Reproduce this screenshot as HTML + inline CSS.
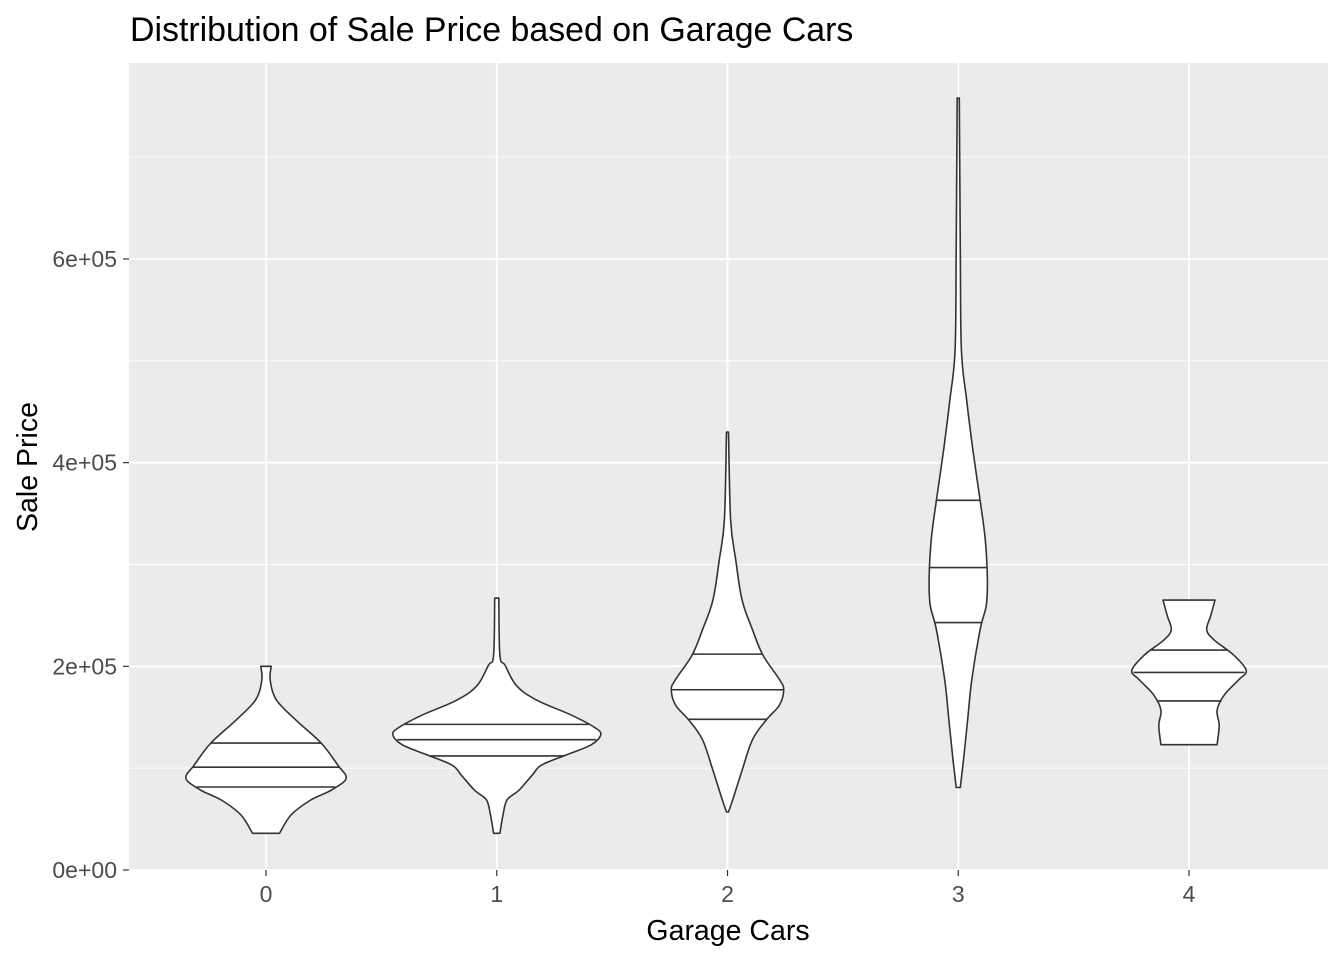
<!DOCTYPE html>
<html><head><meta charset="utf-8"><title>Distribution of Sale Price based on Garage Cars</title>
<style>html,body{margin:0;padding:0;background:#fff}svg{display:block;font-family:"Liberation Sans",Arial,sans-serif}</style>
</head><body>
<svg id="chart" width="1344" height="960" viewBox="0 0 1344 960" xmlns="http://www.w3.org/2000/svg">
<rect x="0" y="0" width="1344" height="960" fill="#fff"/>
<rect x="129" y="63" width="1199" height="807" fill="#ebebeb"/>
<g id="grid"></g>
<g id="violins"></g>
<g id="axes"></g>
<text x="130" y="41" font-size="33.9" fill="#000">Distribution of Sale Price based on Garage Cars</text>
<text x="728" y="940" font-size="28.5" text-anchor="middle" fill="#000">Garage Cars</text>
<text transform="translate(37,467) rotate(-90)" font-size="28.5" text-anchor="middle" fill="#000">Sale Price</text>
</svg>
<script>
const categories = ["0","1","2","3","4"];
const yTicks = [0, 200000, 400000, 600000];
const yTickLabels = ["0e+00","2e+05","4e+05","6e+05"];
const yMinor = [100000, 300000, 500000, 700000];
// violin profiles: price (k$) and relative half-width (0-1)
const price0 = [200,186.5,167,147,124.7,103,90,78.5,68.7,54,36];
const width0 = [0.05,0.04,0.10,0.29,0.53,0.69,0.77,0.63,0.43,0.24,0.13];
const price1 = [267,211,201,181,167,152,140,133,123,113,103,93,78,69,54,36];
const width1 = [0.02,0.03,0.08,0.19,0.38,0.72,0.94,1.0,0.91,0.67,0.43,0.34,0.21,0.10,0.06,0.03];
const price2 = [430,344,304,265,236,211,187,177,162,147,128,98,69,57];
const width2 = [0.01,0.03,0.08,0.14,0.24,0.34,0.50,0.54,0.50,0.37,0.24,0.14,0.05,0.01];
const price3 = [758,609,511,462,413,363,324,285,260,236,187,147,108,81];
const width3 = [0.01,0.02,0.03,0.08,0.14,0.21,0.26,0.28,0.27,0.21,0.13,0.09,0.05,0.02];
const price4 = [265,250,236,226,211,196,187,172,157,142,123];
const width4 = [0.25,0.21,0.17,0.24,0.43,0.55,0.48,0.34,0.27,0.29,0.27];
const quant0 = [124.7,101,81.5];
const quant1 = [143,128,112];
const quant2 = [212,177,148];
const quant3 = [363,297,243];
const quant4 = [216,194,166];
const prices = [price0,price1,price2,price3,price4];
const widths = [width0,width1,width2,width3,width4];
const quants = [quant0,quant1,quant2,quant3,quant4];

const NS = "http://www.w3.org/2000/svg";
const px0 = 129, px1 = 1328, py0 = 63, py1 = 870;
const xScale = i => 266 + i * 230.75;
const yScale = v => 870 - v * (611 / 600000);
const maxHW = 104;
function mk(tag, attrs, parent){const e=document.createElementNS(NS,tag);for(const k in attrs)e.setAttribute(k,attrs[k]);parent.appendChild(e);return e;}
function smooth(pts){
  let d = 'M' + pts[0][0].toFixed(1) + ',' + pts[0][1].toFixed(1);
  for(let i=0;i<pts.length-1;i++){
    const p0=pts[Math.max(i-1,0)], p1=pts[i], p2=pts[i+1], p3=pts[Math.min(i+2,pts.length-1)];
    const c1=[p1[0]+(p2[0]-p0[0])/6, p1[1]+(p2[1]-p0[1])/6];
    const c2=[p2[0]-(p3[0]-p1[0])/6, p2[1]-(p3[1]-p1[1])/6];
    d += 'C'+c1[0].toFixed(1)+','+c1[1].toFixed(1)+' '+c2[0].toFixed(1)+','+c2[1].toFixed(1)+' '+p2[0].toFixed(1)+','+p2[1].toFixed(1);
  }
  return d;
}
const grid = document.getElementById('grid'), vg = document.getElementById('violins'), ax = document.getElementById('axes');
yMinor.forEach(v=>{
  const l = mk('line',{x1:px0,x2:px1,y1:yScale(v),y2:yScale(v),stroke:'#fff','stroke-width':0.9},grid);
  
  
});
yTicks.forEach((v,i)=>{
  const y = yScale(v);
  const l = mk('line',{x1:px0,x2:px1,y1:y,y2:y,stroke:'#fff','stroke-width':1.8},grid);
  
  
  const t = mk('line',{x1:123,x2:129,y1:y,y2:y,stroke:'#333','stroke-width':1.2},ax);
  
  
  const tx = mk('text',{x:117,y:y+8,'font-size':23,'text-anchor':'end',fill:'#4d4d4d'},ax);
  tx.textContent = yTickLabels[i];
  
  
});
categories.forEach((c,i)=>{
  const x = xScale(i);
  const l = mk('line',{x1:x,x2:x,y1:py0,y2:py1,stroke:'#fff','stroke-width':1.8},grid);
  
  
  const t = mk('line',{x1:x,x2:x,y1:870,y2:876,stroke:'#333','stroke-width':1.2},ax);
  
  
  const tx = mk('text',{x:x,y:902,'font-size':23,'text-anchor':'middle',fill:'#4d4d4d'},ax);
  tx.textContent = c;
  
  
  const P = prices[i], W = widths[i];
  const right = P.map((p,j)=>[x + W[j]*maxHW, yScale(p*1000)]);
  const left = P.map((p,j)=>[x - W[j]*maxHW, yScale(p*1000)]).reverse();
  const d = smooth(right) + 'L' + smooth(left).slice(1) + 'Z';
  const path = mk('path',{d:d,fill:'#fff',stroke:'#333','stroke-width':1.6,'stroke-linejoin':'round'},vg);
  
  
  quants[i].forEach(q=>{
    let hw = 0;
    for(let j=0;j<P.length-1;j++){
      if(q<=P[j] && q>=P[j+1]){const t=(P[j]-q)/(P[j]-P[j+1]);hw=W[j]+(W[j+1]-W[j])*t;break;}
    }
    const y = yScale(q*1000);
    const ql = mk('line',{x1:x-hw*maxHW,x2:x+hw*maxHW,y1:y,y2:y,stroke:'#333','stroke-width':1.6},vg);
    
    
  });
});
</script>
</body></html>
